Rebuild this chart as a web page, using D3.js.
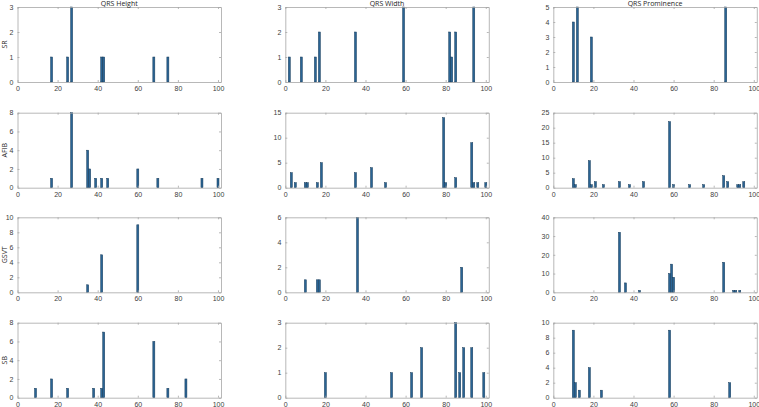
<!DOCTYPE html>
<html>
<head>
<meta charset="utf-8">
<script src="https://cdn.jsdelivr.net/npm/d3@7"></script>
<style>
  body { margin: 0; background: #fff; }
  svg { display: block; font-family: "Open Sans", "Liberation Sans", sans-serif; }
</style>
</head>
<body>
<div id="chart"></div>
<script>
// rows = rhythm classes, columns = QRS features
const rhythms = ["SR", "AFIB", "GSVT", "SB"];
const features = ["QRS Height", "QRS Width", "QRS Prominence"];
const xTicks = [0, 20, 40, 60, 80, 100];

// each entry: [bin, count]
const srHeight = [[17, 1], [25, 1], [27, 3], [42, 1], [43, 1], [68, 1], [75, 1]];
const srWidth = [[2, 1], [8, 1], [15, 1], [17, 2], [35, 2], [59, 3], [82, 2], [83, 1], [85, 2], [94, 3]];
const srProm = [[10, 4], [12, 5], [19, 3], [86, 5]];

const afibHeight = [[17, 1], [27, 8], [35, 4], [36, 2], [39, 1], [42, 1], [45, 1], [60, 2], [70, 1], [92, 1], [100, 1]];
const afibWidth = [[3, 3], [5, 1], [10, 1], [11, 1], [16, 1], [18, 5], [35, 3], [43, 4], [50, 1], [79, 14], [80, 1],
  [85, 2], [93, 9], [94, 1], [96, 1], [100, 1]];
const afibProm = [[10, 3], [11, 1], [18, 9], [19, 1], [21, 2], [25, 1], [33, 2], [38, 1], [45, 2], [58, 22], [60, 1],
  [68, 1], [75, 1], [85, 4], [87, 2], [92, 1], [93, 1], [95, 2]];

const gsvtHeight = [[35, 1], [42, 5], [60, 9]];
const gsvtWidth = [[10, 1], [16, 1], [17, 1], [36, 6], [88, 2]];
const gsvtProm = [[33, 32], [36, 5], [43, 1], [58, 10], [59, 15], [60, 8], [85, 16], [90, 1], [91, 1], [93, 1]];

const sbHeight = [[9, 1], [17, 2], [25, 1], [38, 1], [42, 1], [43, 7], [68, 6], [75, 1], [84, 2]];
const sbWidth = [[20, 1], [53, 1], [63, 1], [68, 2], [85, 3], [87, 1], [89, 2], [93, 2], [99, 1]];
const sbProm = [[10, 9], [11, 2], [13, 1], [18, 4], [24, 1], [58, 9], [88, 2]];

const yMax = [[3, 3, 5], [8, 15, 25], [10, 6, 40], [8, 3, 10]];
const yTicks = [
  [[0, 1, 2, 3], [0, 1, 2, 3], [0, 1, 2, 3, 4, 5]],
  [[0, 2, 4, 6, 8], [0, 5, 10, 15], [0, 5, 10, 15, 20, 25]],
  [[0, 2, 4, 6, 8, 10], [0, 2, 4, 6], [0, 10, 20, 30, 40]],
  [[0, 2, 4, 6, 8], [0, 1, 2, 3], [0, 2, 4, 6, 8, 10]]
];

const grid = [
  [srHeight, srWidth, srProm],
  [afibHeight, afibWidth, afibProm],
  [gsvtHeight, gsvtWidth, gsvtProm],
  [sbHeight, sbWidth, sbProm]
];

const W = 759, H = 407;
const colLeft = [17.5, 285.3, 553.3];
const rowTop = [7, 112.7, 217.3, 322.7];
const pw = 203.5, ph = 75;
const axisCol = "#a6a6a6", textCol = "#404040";
const fmt = d3.format("d");

const svg = d3.select("#chart").append("svg").attr("width", W).attr("height", H);

grid.forEach((row, r) => {
  row.forEach((data, c) => {
    const g = svg.append("g").attr("transform", `translate(${colLeft[c]},${rowTop[r]})`);
    const x = d3.scaleLinear().domain([0, 101.5]).range([0, pw]);
    const y = d3.scaleLinear().domain([0, yMax[r][c]]).range([ph, 0]);

    g.append("rect").attr("width", pw).attr("height", ph).attr("fill", "#fff");

    g.selectAll("rect.bar")
      .data(data)
      .enter()
      .append("rect")
      .attr("class", "bar")
      .attr("x", d => x(d[0] - 0.5))
      .attr("width", d => x(d[0] + 0.5) - x(d[0] - 0.5))
      .attr("y", d => y(d[1]))
      .attr("height", d => y(0) - y(d[1]))
      .attr("fill", "#2a6494")
      .attr("stroke", "#173a58")
      .attr("stroke-width", 0.5);

    // axes: ticks point inward, mirrored on top and right like a boxed plot
    const styleAxis = sel => {
      sel.select(".domain").attr("stroke", axisCol).attr("stroke-width", 0.8);
      sel.selectAll(".tick line").attr("stroke", axisCol).attr("stroke-width", 0.8);
      sel.selectAll(".tick text").attr("fill", textCol).attr("font-size", 7);
    };

    g.append("g").attr("transform", `translate(0,${ph})`)
      .call(d3.axisBottom(x).tickValues(xTicks).tickFormat(fmt).tickSizeInner(-2).tickSizeOuter(0).tickPadding(4))
      .call(styleAxis);
    g.append("g")
      .call(d3.axisTop(x).tickValues(xTicks).tickSizeInner(-2).tickSizeOuter(0).tickFormat(""))
      .call(styleAxis);
    g.append("g")
      .call(d3.axisLeft(y).tickValues(yTicks[r][c]).tickFormat(fmt).tickSizeInner(-2).tickSizeOuter(0).tickPadding(4))
      .call(styleAxis);
    g.append("g").attr("transform", `translate(${pw},0)`)
      .call(d3.axisRight(y).tickValues(yTicks[r][c]).tickSizeInner(-2).tickSizeOuter(0).tickFormat(""))
      .call(styleAxis);

    if (r === 0) {
      g.append("text")
        .attr("x", pw / 2)
        .attr("y", -1)
        .attr("text-anchor", "middle")
        .attr("font-size", 7)
        .attr("fill", "#262626")
        .text(features[c]);
    }
    if (c === 0) {
      g.append("text")
        .attr("transform", `translate(-10.5,${ph / 2}) rotate(-90)`)
        .attr("text-anchor", "middle")
        .attr("font-size", 7)
        .attr("fill", "#262626")
        .text(rhythms[r]);
    }
  });
});
</script>
</body>
</html>
